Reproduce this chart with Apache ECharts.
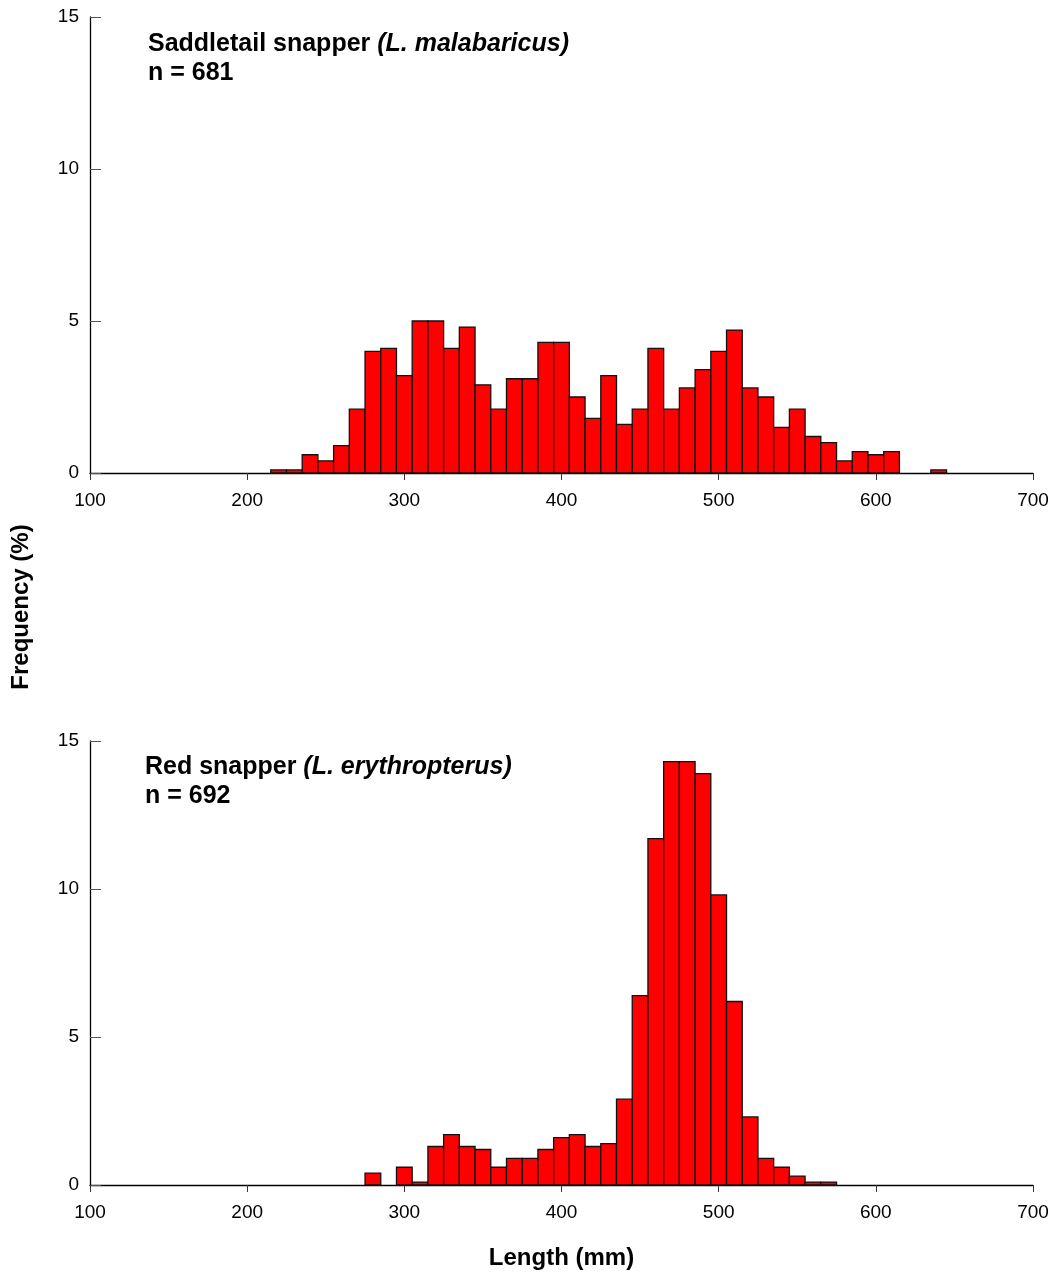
<!DOCTYPE html>
<html>
<head>
<meta charset="utf-8">
<script src="https://cdn.jsdelivr.net/npm/echarts@6/dist/echarts.min.js"></script>
<style>html,body{margin:0;padding:0;background:#fff;}#c{width:1056px;height:1277px;}</style>
</head>
<body>
<div id="c"></div>
<script>
// Bin centres (mm), 10 mm bins
const binsTop = [220,230,240,250,260,270,280,290,300,310,320,330,340,350,360,370,380,390,400,410,420,430,440,450,460,470,480,490,500,510,520,530,540,550,560,570,580,590,600,610,620,630,640];
const freqTop = [0.1,0.1,0.6,0.4,0.9,2.1,4.0,4.1,3.2,5.0,5.0,4.1,4.8,2.9,2.1,3.1,3.1,4.3,4.3,2.5,1.8,3.2,1.6,2.1,4.1,2.1,2.8,3.4,4.0,4.7,2.8,2.5,1.5,2.1,1.2,1.0,0.4,0.7,0.6,0.7,0,0,0.1];
const binsBottom = [280,290,300,310,320,330,340,350,360,370,380,390,400,410,420,430,440,450,460,470,480,490,500,510,520,530,540,550,560,570];
const freqBottom = [0.4,0,0.6,0.1,1.3,1.7,1.3,1.2,0.6,0.9,0.9,1.2,1.6,1.7,1.3,1.4,2.9,6.4,11.7,14.3,14.3,13.9,9.8,6.2,2.3,0.9,0.6,0.3,0.1,0.1];
const xTicks = [100,200,300,400,500,600,700];
const yTicks = [0,5,10,15];
const binWidth = 10;

const FONT = '"Liberation Sans", Arial, sans-serif';
const chart = echarts.init(document.getElementById('c'), null, {renderer:'canvas'});

function renderBar(params, api){
  const x = api.value(0), v = api.value(1);
  if (!v) return null;
  const p0 = api.coord([x - binWidth/2, v]);
  const p1 = api.coord([x + binWidth/2, 0]);
  return {
    type:'rect',
    shape:{x:p0[0], y:p0[1], width:p1[0]-p0[0], height:p1[1]-p0[1]},
    style:{fill:'#ff0000', stroke:'#111', lineWidth:1.3}
  };
}

const xAxisBase = {
  type:'value', min:xTicks[0], max:xTicks[xTicks.length-1], interval:100,
  axisLine:{onZero:false, lineStyle:{color:'#000', width:1.3}},
  axisTick:{show:true, inside:false, length:7, lineStyle:{color:'#333'}},
  axisLabel:{color:'#000', fontSize:19, fontFamily:FONT, margin:18},
  splitLine:{show:false}
};
const yAxisBase = {
  type:'value', min:yTicks[0], max:yTicks[yTicks.length-1], interval:5,
  axisLine:{show:true, lineStyle:{color:'#000', width:1.3}},
  axisTick:{show:true, inside:true, length:11, lineStyle:{color:'#555'}},
  axisLabel:{color:'#000', fontSize:19, fontFamily:FONT, margin:11},
  splitLine:{show:false}
};

const titleRich = {
  b:{fontSize:25, fontWeight:'bold', fontFamily:FONT, color:'#000', lineHeight:29},
  bi:{fontSize:25, fontWeight:'bold', fontStyle:'italic', fontFamily:FONT, color:'#000', lineHeight:29}
};

chart.setOption({
  animation:false,
  backgroundColor:'#fff',
  title:[
    {text:'{b|Saddletail snapper }{bi|(L. malabaricus)}\n{b|n = 681}', left:148, top:30, padding:0,
     textStyle:{rich:titleRich}},
    {text:'{b|Red snapper }{bi|(L. erythropterus)}\n{b|n = 692}', left:145, top:753, padding:0,
     textStyle:{rich:titleRich}}
  ],
  grid:[
    {left:90, right:23, top:17, height:456},
    {left:90, right:23, top:741, height:444}
  ],
  xAxis:[
    Object.assign({gridIndex:0}, xAxisBase),
    Object.assign({gridIndex:1}, xAxisBase, {
      name:'Length (mm)', nameLocation:'middle', nameGap:61,
      nameTextStyle:{color:'#000', fontSize:24, fontWeight:'bold', fontFamily:FONT}
    })
  ],
  yAxis:[
    Object.assign({gridIndex:0}, yAxisBase),
    Object.assign({gridIndex:1}, yAxisBase)
  ],
  graphic:[{
    type:'text', x:21, y:607, rotation:Math.PI/2,
    style:{text:'Frequency (%)', fill:'#000', font:'bold 24px "Liberation Sans", Arial, sans-serif', align:'center', verticalAlign:'middle'}
  }],
  series:[
    {type:'custom', xAxisIndex:0, yAxisIndex:0, renderItem:renderBar,
     data:binsTop.map((b,i)=>[b, freqTop[i]])},
    {type:'custom', xAxisIndex:1, yAxisIndex:1, renderItem:renderBar,
     data:binsBottom.map((b,i)=>[b, freqBottom[i]])}
  ]
});
</script>
</body>
</html>
